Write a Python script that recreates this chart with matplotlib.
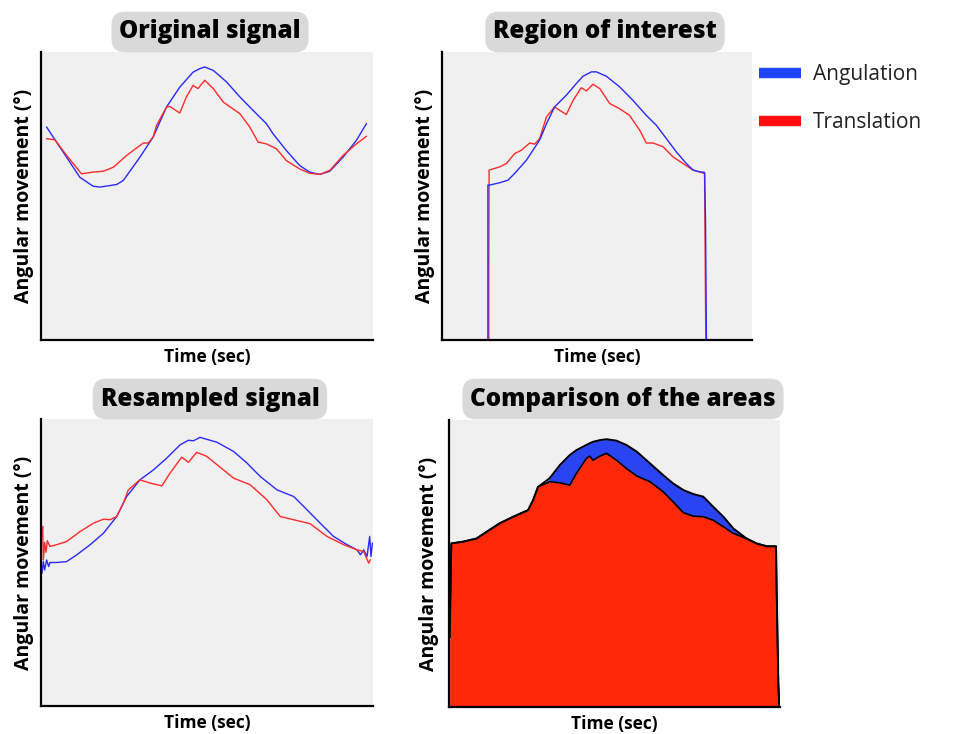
import numpy as np
import matplotlib
matplotlib.use("Agg")
import matplotlib.pyplot as plt
from matplotlib.lines import Line2D

plt.rcParams['font.family'] = ['Open Sans', 'DejaVu Sans']

# ---------------------------
# data (time and angle in % of the plotting window)
# ---------------------------
# original signal
t_orig_ang = [1.7, 11.7, 15.7, 17.8, 22.8, 24.8, 29.8, 33.8, 37.8, 41.8, 45.8, 47.8, 49.3,
              51.9, 55.9, 59.9, 63.9, 67.9, 69.9, 73.9, 77.9, 80.9, 84.0, 87.0, 91.0, 95.0, 98.0]
orig_ang = [73.9, 56.5, 53.4, 53.1, 54.0, 55.4, 63.5, 70.5, 80.9, 87.8, 93.0, 94.2, 94.8,
            93.6, 89.6, 84.4, 79.7, 75.1, 71.6, 65.8, 60.6, 58.3, 57.5, 58.6, 63.5, 69.3, 75.1]
t_orig_tra = [1.7, 4.2, 7.7, 12.2, 15.7, 18.8, 21.8, 25.8, 30.8, 32.3, 33.8, 34.8, 37.8, 38.8,
              41.8, 43.8, 45.8, 47.3, 49.3, 51.9, 54.9, 59.9, 62.9, 65.4, 67.9, 70.9, 73.9,
              77.9, 80.9, 84.0, 87.0, 91.0, 95.0, 98.0]
orig_tra = [69.9, 69.5, 64.1, 57.7, 58.3, 58.6, 60.0, 64.1, 68.4, 68.4, 70.5, 74.5, 80.9, 81.1,
            78.8, 84.4, 88.4, 87.3, 90.2, 87.3, 82.6, 78.6, 73.9, 68.7, 68.1, 66.4, 62.3,
            59.4, 57.9, 57.5, 58.9, 64.1, 68.1, 70.7]

# region of interest
t_roi_ang = [14.8, 14.8, 15.4, 18.6, 21.3, 23.4, 27.2, 31.5, 33.7, 36.3, 40.1, 43.3, 45.5, 48.2,
             49.8, 53.0, 57.3, 61.6, 65.9, 69.1, 72.4, 75.6, 78.8, 81.0, 83.1, 84.7, 85.0, 85.3]
roi_ang = [0, 53.8, 53.8, 54.6, 55.5, 57.8, 62.4, 69.4, 75.1, 80.9, 85.0, 89.0, 91.6, 93.1,
           93.1, 91.6, 87.9, 83.2, 78.0, 74.6, 69.9, 65.3, 61.3, 59.0, 58.4, 58.2, 42.0, 0]
t_roi_tra = [15.1, 15.1, 15.2, 18.6, 20.8, 23.4, 25.6, 28.3, 29.9, 31.5, 33.7, 36.3, 40.1, 42.3,
             44.9, 46.6, 48.7, 50.9, 54.1, 57.3, 60.5, 63.8, 65.9, 68.1, 71.3, 74.5, 77.7,
             81.0, 84.7, 85.1]
roi_tra = [0, 25.4, 59.0, 60.1, 61.3, 64.7, 65.9, 68.4, 68.0, 69.9, 77.5, 80.9, 78.3, 83.2,
           87.6, 86.5, 88.8, 87.3, 82.1, 80.3, 78.0, 72.8, 68.4, 68.4, 67.1, 63.6, 61.3,
           59.0, 57.8, 0]

# resampled signal
t_res_ang = [0.3, 0.7, 1.1, 1.7, 2.3, 2.7, 4.7, 7.7, 10.8, 14.8, 18.8, 22.8, 25.8, 29.8, 33.9,
             37.9, 41.9, 44.4, 45.9, 47.9, 53.0, 58.0, 62.0, 66.0, 71.1, 76.1, 80.1, 84.1,
             88.1, 92.2, 95.2, 96.2, 97.2, 98.2, 99.0, 99.4, 99.8]
res_ang = [46.3, 50.3, 47.4, 50.9, 48.6, 50.0, 50.0, 50.3, 52.7, 56.2, 60.2, 66.0, 73.0, 78.8,
           82.3, 86.4, 91.0, 92.6, 92.4, 93.6, 91.9, 88.7, 84.7, 80.0, 75.3, 73.0, 68.4, 63.7,
           59.1, 56.2, 54.4, 52.7, 54.4, 52.1, 59.1, 52.1, 56.7]
t_res_tra = [0.3, 0.5, 0.7, 1.1, 1.5, 1.9, 2.7, 4.7, 7.7, 11.8, 15.8, 18.8, 20.8, 22.8, 24.8,
             26.3, 29.8, 32.8, 36.4, 38.9, 42.4, 44.4, 46.9, 49.9, 53.0, 58.0, 63.0, 68.0,
             72.1, 76.1, 81.1, 86.1, 91.2, 95.2, 97.2, 98.7, 99.2]
res_tra = [59.1, 62.6, 50.9, 57.0, 53.5, 57.6, 55.6, 56.2, 57.3, 60.8, 63.7, 65.1, 64.9, 66.0,
           70.7, 75.3, 78.8, 77.7, 76.7, 81.2, 86.7, 84.9, 88.4, 87.0, 84.1, 79.4, 77.1, 71.9,
           66.0, 64.9, 63.5, 59.1, 56.2, 54.4, 53.8, 49.8, 50.9]

# comparison of the areas (shared time axis)
t_area = [0.2, 0.7, 4.2, 8.3, 11.3, 15.3, 19.4, 23.9, 25.4, 26.9, 30.4, 33.5, 36.5, 38.5, 41.5,
          42.5, 43.5, 45.6, 47.6, 50.6, 53.6, 56.7, 60.7, 64.7, 67.7, 70.8, 73.8, 76.8, 79.8,
          82.9, 85.9, 89.9, 92.9, 96.0, 98.8, 99.0, 99.5, 99.8]
area_tra = [24.4, 57.0, 57.6, 58.7, 61.0, 64.0, 66.3, 68.6, 72.1, 76.7, 78.5, 78.1, 77.3, 81.4,
            86.6, 87.4, 86.0, 87.4, 88.4, 86.0, 83.1, 80.5, 78.5, 75.0, 71.5, 67.7, 66.5, 66.3,
            65.1, 62.8, 60.5, 58.7, 57.0, 56.0, 56.0, 40.1, 8.1, 0.0]
area_ang = [24.4, 51.2, 51.7, 53.5, 55.8, 59.3, 62.8, 68.6, 71.5, 75.6, 79.7, 84.3, 87.8, 89.5,
            91.3, 91.9, 92.4, 93.0, 93.3, 92.8, 91.3, 89.0, 84.9, 80.8, 77.9, 75.6, 74.2, 73.3,
            69.8, 66.3, 62.2, 58.7, 57.0, 56.0, 56.0, 40.1, 8.1, 0.0]

titles = ["Original signal", "Region of interest", "Resampled signal", "Comparison of the areas"]
legend_labels = ["Angulation", "Translation"]

BLUE = '#2a2aff'
RED = '#ff2a2a'
BG = '#f0f0f0'

fig = plt.figure(figsize=(9.63, 7.34), dpi=100)
W, H = 963, 734

def px_axes(x0, y0, x1, y1):
    return fig.add_axes([x0 / W, 1 - y1 / H, (x1 - x0) / W, (y1 - y0) / H])

axes = [px_axes(41, 52, 373, 340), px_axes(442, 52, 752, 340),
        px_axes(41, 419, 373, 706), px_axes(449, 420, 780, 707)]
title_pos = [(210, 32), (605, 32), (210, 399), (623, 399)]
ylab_pad = [5, 5, 5, 7]

for ax, title, (tx, ty), lp in zip(axes, titles, title_pos, ylab_pad):
    ax.set_facecolor(BG)
    ax.set_xlim(0, 100)
    ax.set_ylim(0, 100)
    ax.set_xticks([])
    ax.set_yticks([])
    for s in ['top', 'right']:
        ax.spines[s].set_visible(False)
    for s in ['left', 'bottom']:
        ax.spines[s].set_linewidth(1.6)
        ax.spines[s].set_color('black')
    ax.set_xlabel("Time (sec)", fontsize=12.5, fontweight='bold', labelpad=6)
    ax.set_ylabel("Angular movement (°)", fontsize=14, fontweight='bold', labelpad=lp)
    fig.text(tx / W, 1 - ty / H, title, ha='center', va='center', fontsize=17.5,
             fontweight='heavy', color='black',
             bbox=dict(boxstyle='round,pad=0.32,rounding_size=0.55', fc='#d9d9d9', ec='none'))

ax1, ax2, ax3, ax4 = axes
ax1.plot(t_orig_ang, orig_ang, color=BLUE, lw=1.0)
ax1.plot(t_orig_tra, orig_tra, color=RED, lw=1.0)

ax2.plot(t_roi_tra, roi_tra, color=RED, lw=1.0)
ax2.plot(t_roi_ang, roi_ang, color=BLUE, lw=1.0)

ax3.plot(t_res_ang, res_ang, color=BLUE, lw=1.0)
ax3.plot(t_res_tra, res_tra, color=RED, lw=1.0)

t4 = np.array(t_area)
a4 = np.array(area_ang)
r4 = np.array(area_tra)
ax4.fill_between(t4, 0, r4, color='#ff2808', lw=0)
ax4.fill_between(t4, r4, a4, where=a4 > r4, interpolate=True, color='#2b44f2', lw=0)
ax4.plot(t4, r4, color='black', lw=1.2)
ax4.plot(t4, np.maximum(a4, r4), color='black', lw=1.4)

handles = [Line2D([], [], color='#1f45f5', lw=7.5, solid_capstyle='butt'),
           Line2D([], [], color='#ff0d0d', lw=7.5, solid_capstyle='butt')]
fig.legend(handles, legend_labels, loc='upper left', bbox_to_anchor=(759 / W, 1 - 64 / H),
           frameon=False, fontsize=15, handlelength=2.0, handletextpad=0.6,
           labelspacing=1.3, borderpad=0, borderaxespad=0, labelcolor='#222222')

fig.savefig("out.png", dpi=100, facecolor='white')
